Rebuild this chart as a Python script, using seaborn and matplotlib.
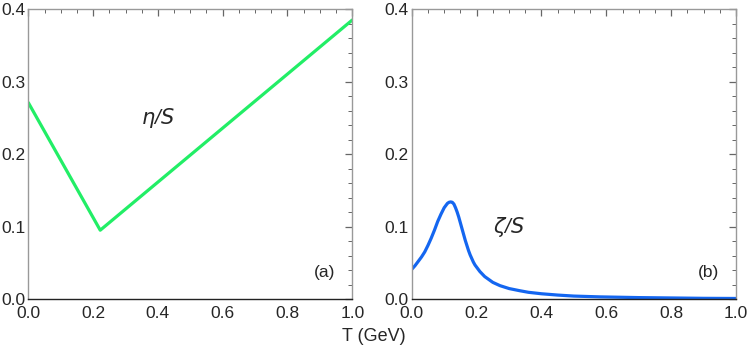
import numpy as np
import pandas as pd
import seaborn as sns
import matplotlib
matplotlib.use("Agg")
import matplotlib.pyplot as plt
from matplotlib.ticker import MultipleLocator

# eta/s: piecewise linear
eta_T = [0.0, 0.222, 1.0]
eta_s = [0.271, 0.095, 0.385]

# zeta/s
zeta_T = [0.0, 0.01, 0.02, 0.03, 0.04, 0.05, 0.06, 0.07, 0.08, 0.09, 0.10, 0.105,
          0.11, 0.115, 0.12, 0.125, 0.13, 0.135, 0.14, 0.145, 0.15, 0.155, 0.16,
          0.165, 0.17, 0.175, 0.18, 0.185, 0.19, 0.195, 0.21, 0.225, 0.25, 0.272,
          0.30, 0.333, 0.36, 0.40, 0.45, 0.50, 0.58, 0.70, 0.80, 0.90, 1.0]
zeta_s = [0.041, 0.046, 0.052, 0.058, 0.065, 0.074, 0.084, 0.095, 0.107, 0.117, 0.126, 0.129,
          0.132, 0.1335, 0.134, 0.1335, 0.131, 0.126, 0.120, 0.113, 0.105, 0.097, 0.089,
          0.081, 0.074, 0.067, 0.061, 0.056, 0.051, 0.047, 0.038, 0.031, 0.023, 0.0185,
          0.0145, 0.0115, 0.0093, 0.0073, 0.0055, 0.0041, 0.003, 0.002, 0.0015, 0.001, 0.0008]

x_ticks = [0.0, 0.2, 0.4, 0.6, 0.8, 1.0]
y_ticks = [0.0, 0.1, 0.2, 0.3, 0.4]

sns.set_style("white")
plt.rcParams["font.family"] = ["Liberation Sans", "DejaVu Sans"]

eta_df = pd.DataFrame({"T": eta_T, "value": eta_s})
zeta_df = pd.DataFrame({"T": zeta_T, "value": zeta_s})

fig = plt.figure(figsize=(7.47, 3.51), dpi=100)
ax1 = fig.add_axes([0.0379, 0.148, 0.4337, 0.826])
ax2 = fig.add_axes([0.5512, 0.148, 0.4342, 0.826])

sns.lineplot(data=eta_df, x="T", y="value", ax=ax1, color="#22EE66", linewidth=2.3)
sns.lineplot(data=zeta_df, x="T", y="value", ax=ax2, color="#1466F0", linewidth=2.3)

for ax in (ax1, ax2):
    ax.set_xlim(0, 1.0)
    ax.set_ylim(0, 0.4)
    ax.set_xticks(x_ticks)
    ax.set_yticks(y_ticks)
    ax.set_xticklabels([f"{t:.1f}" for t in x_ticks])
    ax.set_yticklabels([f"{t:.1f}" for t in y_ticks])
    ax.xaxis.set_minor_locator(MultipleLocator(0.05))
    ax.yaxis.set_minor_locator(MultipleLocator(0.02))
    ax.tick_params(which="both", direction="in", top=True, right=True,
                   color="#666666", labelsize=12.5)
    ax.tick_params(axis="x", pad=5)
    ax.tick_params(axis="y", pad=2)
    ax.tick_params(which="major", length=5, width=0.9)
    ax.tick_params(which="minor", length=3, width=0.7)
    for name, spine in ax.spines.items():
        spine.set_visible(True)
        spine.set_color("#999999")
        spine.set_linewidth(1.0)
    ax.spines["bottom"].set_color("#222222")
    ax.set_xlabel("")
    ax.set_ylabel("")
    ax.grid(False)

ax1.text(0.40, 0.25, r"$\eta$/$S$", fontsize=15, ha="center", va="center",
         style="italic")
ax2.text(0.30, 0.10, r"$\zeta$/$S$", fontsize=15, ha="center", va="center",
         style="italic")
ax1.text(0.915, 0.036, "(a)", fontsize=12.5, ha="center", va="center")
ax2.text(0.915, 0.036, "(b)", fontsize=12.5, ha="center", va="center")

fig.text(0.5, 0.04, "T (GeV)", fontsize=13, ha="center", va="center")

fig.savefig("out.png", dpi=100)
plt.close(fig)
